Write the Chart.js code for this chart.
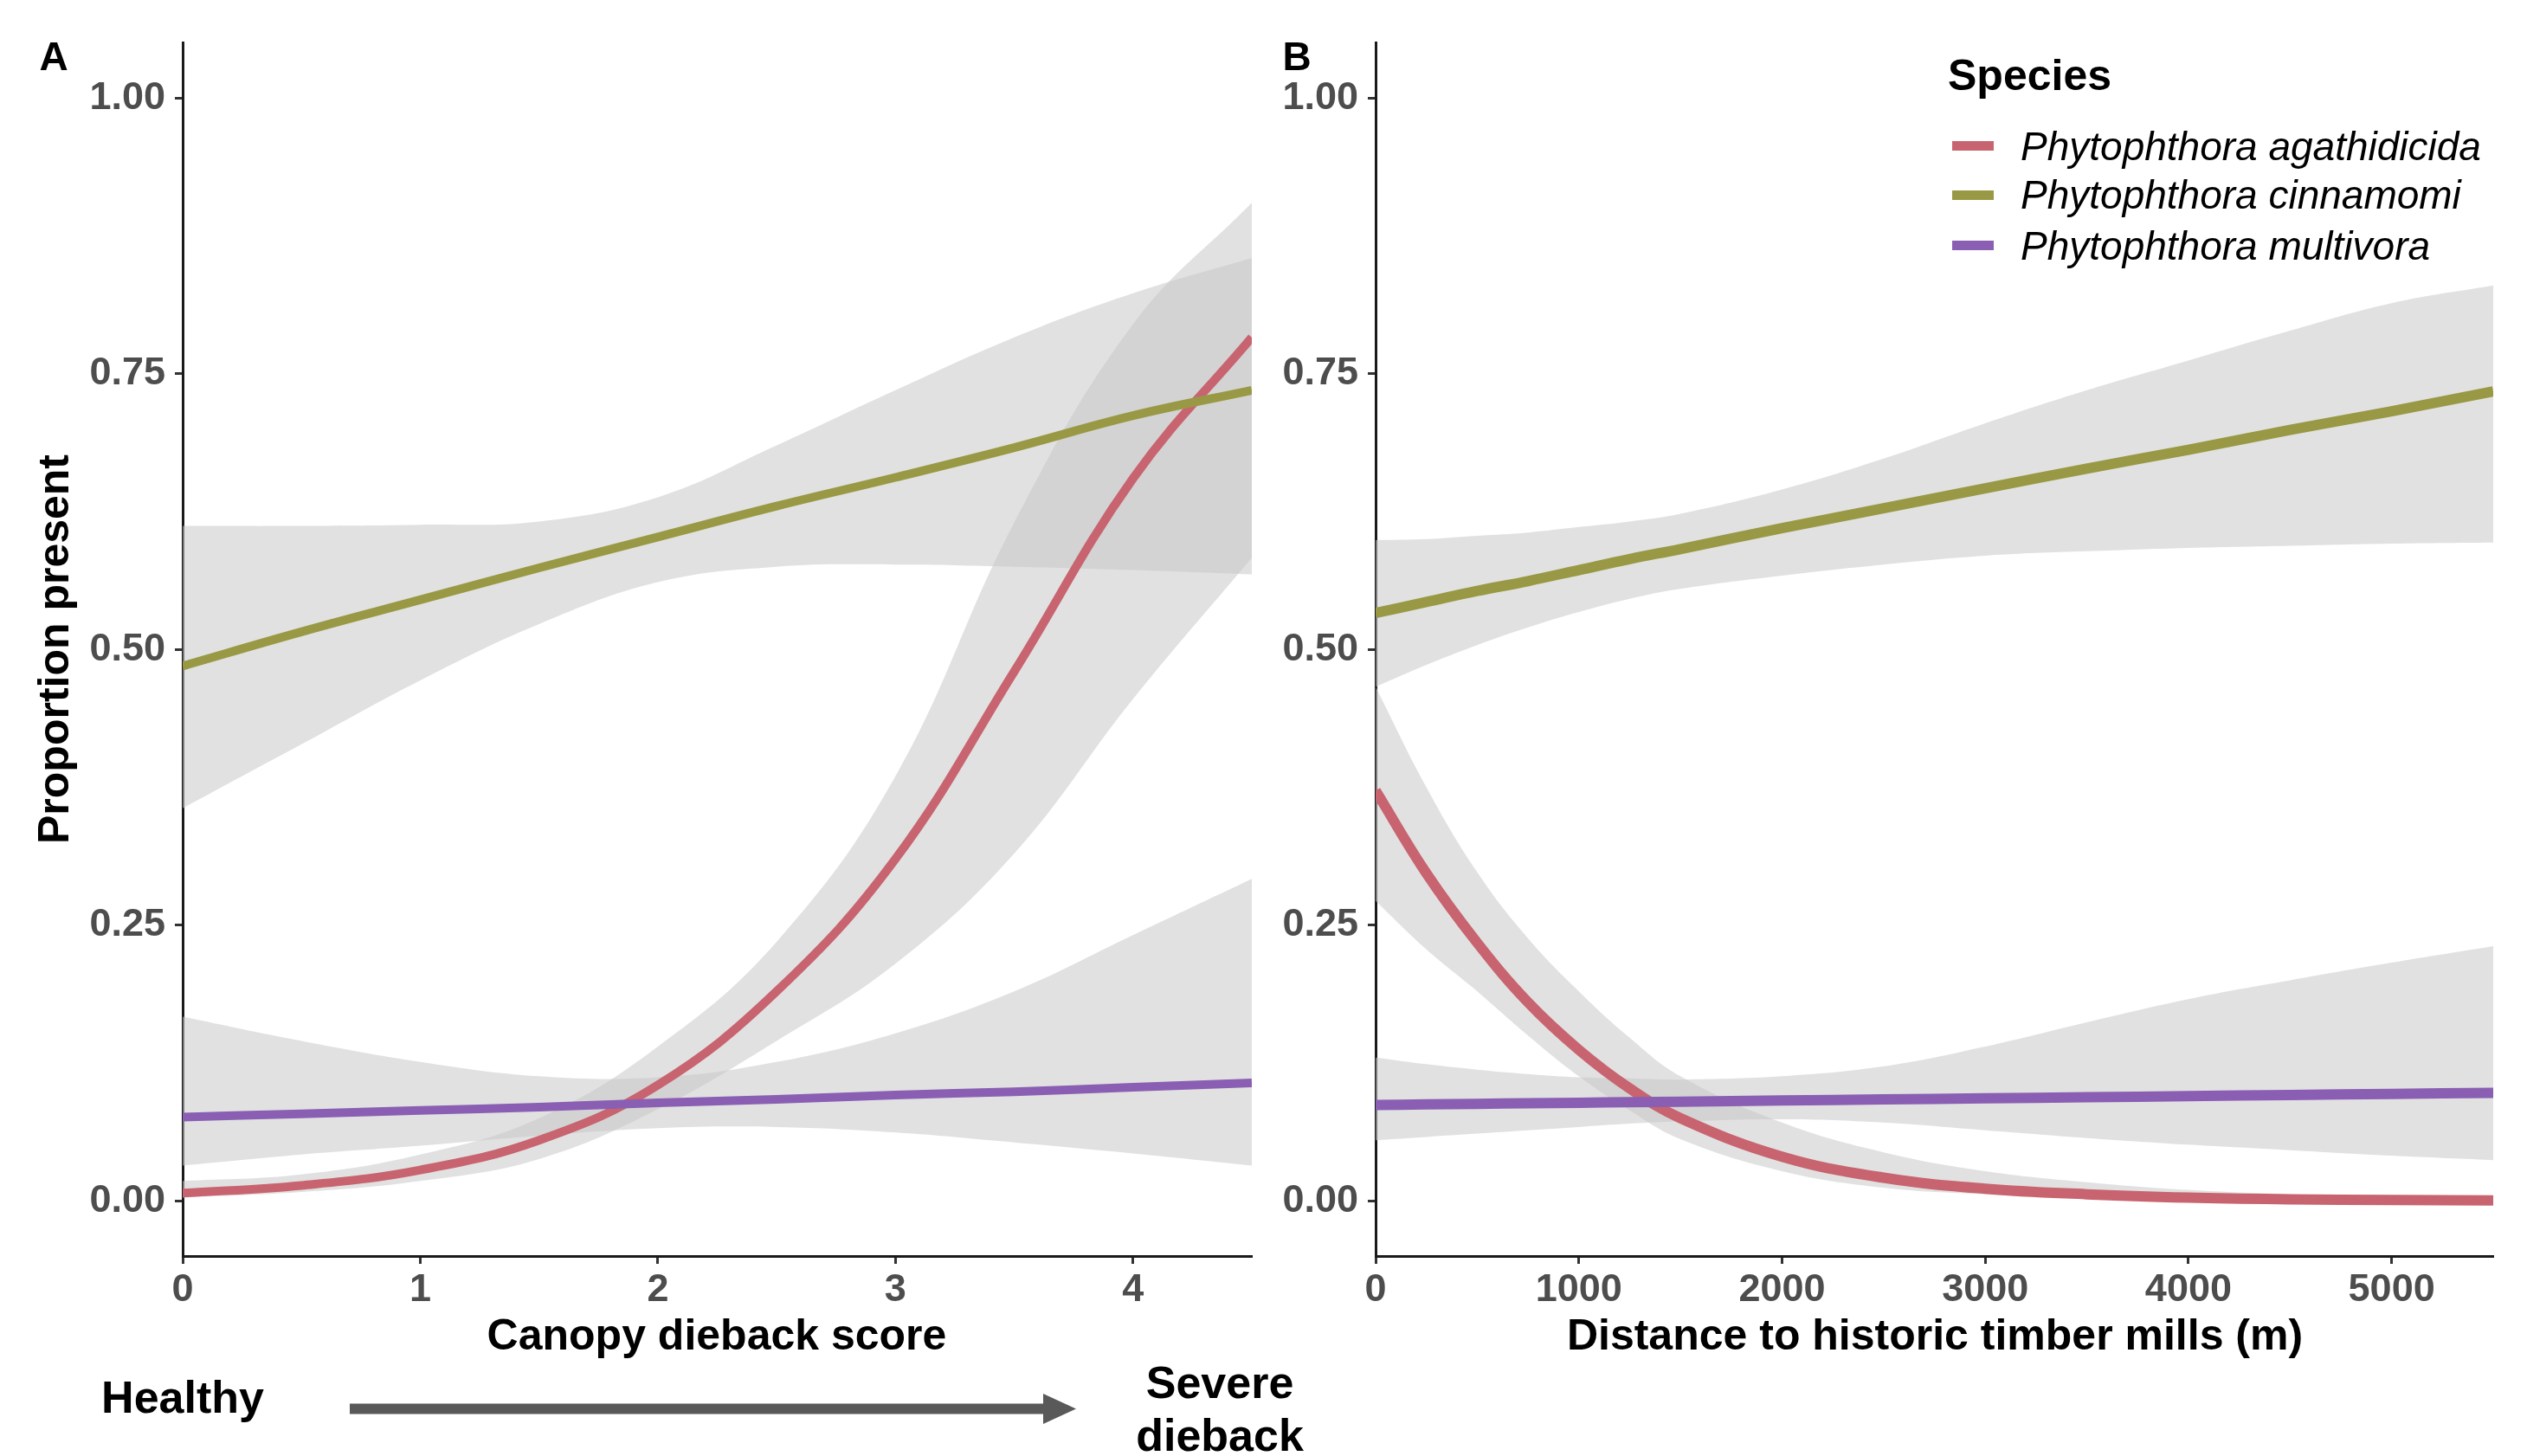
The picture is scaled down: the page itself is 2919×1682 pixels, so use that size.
<!DOCTYPE html>
<html>
<head>
<meta charset="utf-8">
<script src="https://cdn.jsdelivr.net/npm/chart.js@4.4.1/dist/chart.umd.min.js"></script>
<style>
  body { margin: 0; background: #fff; }
  #fig { position: relative; width: 2919px; height: 1682px; overflow: hidden; font-family: 'Liberation Sans', Arial, sans-serif; }
  canvas { position: absolute; top: 0; }
  .lbl { position: absolute; line-height: 1; white-space: nowrap; transform: translate(-50%, -50%); color: #000; font-weight: bold; }
  .left { transform: translate(0, -50%); }
  .row { position: absolute; left: 2255px; height: 46px; transform: translateY(-50%); display: flex; align-items: center; }
  .swatch { width: 48px; height: 11px; margin-right: 31px; }
  .row span.name { font-style: italic; font-size: 46px; line-height: 1; color: #000; white-space: nowrap; }
  svg { position: absolute; left: 0; top: 0; }
</style>
</head>
<body>
<div id="fig">
  <canvas id="panelA" width="1460" height="1682" style="left:0;width:1460px;height:1682px"></canvas>
  <canvas id="panelB" width="1459" height="1682" style="left:1460px;width:1459px;height:1682px"></canvas>

  <div class="lbl" style="left:62px;top:65px;font-size:46px">A</div>
  <div class="lbl" style="left:1498px;top:65px;font-size:46px">B</div>
  <div class="lbl" style="left:62px;top:750px;font-size:50px;transform:translate(-50%,-50%) rotate(-90deg)">Proportion present</div>
  <div class="lbl" style="left:828px;top:1542px;font-size:50px">Canopy dieback score</div>
  <div class="lbl" style="left:2235px;top:1542px;font-size:50px">Distance to historic timber mills (m)</div>

  <div class="lbl left" style="left:2250px;top:87px;font-size:50px">Species</div>
  <div id="legend"></div>

  <div class="lbl" style="left:211px;top:1614px;font-size:52px">Healthy</div>
  <div class="lbl" style="left:1409px;top:1597px;font-size:52px">Severe</div>
  <div class="lbl" style="left:1409px;top:1658px;font-size:52px">dieback</div>
  <svg width="2919" height="1682">
    <rect x="404" y="1621.5" width="806" height="12" fill="#595959"/>
    <polygon points="1205,1610 1243,1627.5 1205,1645" fill="#595959"/>
  </svg>
</div>

<script>
// ---- data ----
const speciesNames = ['Phytophthora agathidicida', 'Phytophthora cinnamomi', 'Phytophthora multivora'];
const speciesColors = ['#C8646F', '#999945', '#8A5FB3'];

const yTicks = [0, 0.25, 0.5, 0.75, 1];
const yTickLabels = ['0.00', '0.25', '0.50', '0.75', '1.00'];

// Panel A: canopy dieback score
const scoreX = [0, 0.5, 1, 1.5, 2, 2.5, 3, 3.5, 4, 4.5];
const scoreTicks = [0, 1, 2, 3, 4];
const scoreTickLabels = ['0', '1', '2', '3', '4'];

const agathA = [0.007, 0.014, 0.028, 0.055, 0.105, 0.19, 0.31, 0.48, 0.655, 0.783];
const agathALow = [0.003, 0.008, 0.018, 0.038, 0.083, 0.145, 0.215, 0.315, 0.455, 0.583];
const agathAHigh = [0.018, 0.024, 0.042, 0.075, 0.14, 0.235, 0.385, 0.615, 0.795, 0.905];

const cinnA = [0.485, 0.516, 0.545, 0.574, 0.602, 0.630, 0.656, 0.683, 0.712, 0.735];
const cinnALow = [0.356, 0.414, 0.472, 0.523, 0.561, 0.575, 0.577, 0.575, 0.572, 0.568];
const cinnAHigh = [0.612, 0.612, 0.613, 0.616, 0.638, 0.685, 0.735, 0.783, 0.823, 0.855];

const multA = [0.076, 0.079, 0.082, 0.085, 0.089, 0.092, 0.096, 0.099, 0.103, 0.107];
const multALow = [0.032, 0.042, 0.050, 0.059, 0.066, 0.067, 0.062, 0.053, 0.043, 0.032];
const multAHigh = [0.167, 0.145, 0.126, 0.113, 0.112, 0.126, 0.152, 0.19, 0.241, 0.292];

// Panel B: distance to historic timber mills (m)
const distX = [0, 250, 500, 750, 1000, 1250, 1500, 2000, 2500, 3000, 3500, 4000, 4500, 5000, 5500];
const distTicks = [0, 1000, 2000, 3000, 4000, 5000];
const distTickLabels = ['0', '1000', '2000', '3000', '4000', '5000'];

const agathB = [0.372, 0.297, 0.234, 0.180, 0.137, 0.102, 0.075, 0.040, 0.021, 0.011, 0.006, 0.003, 0.0015, 0.0008, 0.0004];
const agathBLow = [0.272, 0.228, 0.19, 0.15, 0.113, 0.082, 0.056, 0.027, 0.012, 0.006, 0.003, 0.0015, 0.0007, 0.0003, 0.0001];
const agathBHigh = [0.466, 0.375, 0.298, 0.238, 0.19, 0.148, 0.113, 0.071, 0.044, 0.027, 0.017, 0.010, 0.006, 0.004, 0.002];

const cinnB = [0.533, 0.543, 0.553, 0.562, 0.572, 0.582, 0.591, 0.610, 0.628, 0.646, 0.664, 0.681, 0.699, 0.716, 0.734];
const cinnBLow = [0.466, 0.486, 0.504, 0.520, 0.534, 0.546, 0.555, 0.567, 0.577, 0.585, 0.589, 0.592, 0.594, 0.596, 0.597];
const cinnBHigh = [0.599, 0.600, 0.603, 0.606, 0.611, 0.616, 0.623, 0.645, 0.673, 0.705, 0.735, 0.762, 0.789, 0.814, 0.830];

const multB = [0.087, 0.0875, 0.088, 0.0885, 0.089, 0.0895, 0.090, 0.091, 0.092, 0.093, 0.094, 0.095, 0.096, 0.097, 0.098];
const multBLow = [0.055, 0.058, 0.061, 0.064, 0.067, 0.070, 0.072, 0.074, 0.071, 0.064, 0.057, 0.051, 0.046, 0.041, 0.037];
const multBHigh = [0.130, 0.124, 0.119, 0.115, 0.112, 0.111, 0.110, 0.113, 0.122, 0.140, 0.162, 0.183, 0.200, 0.216, 0.231];

const ribbonFill = 'rgba(200, 200, 200, 0.55)';
const fontFamily = "'Liberation Sans', Arial, sans-serif";

function toPoints(xs, ys) {
  return xs.map((x, i) => ({ x: x, y: ys[i] }));
}

// ribbons go first (upper edge fills down to the lower edge right after it), fitted lines on top
function buildDatasets(xs, fits, lows, highs, lineWidth) {
  const ds = [];
  fits.forEach((f, s) => {
    ds.push({ data: toPoints(xs, highs[s]), fill: '+1', backgroundColor: ribbonFill,
              borderColor: 'rgba(0,0,0,0)', borderWidth: 0, order: 10 });
    ds.push({ data: toPoints(xs, lows[s]), fill: false,
              borderColor: 'rgba(0,0,0,0)', borderWidth: 0, order: 10 });
  });
  fits.forEach((f, s) => {
    ds.push({ label: speciesNames[s], data: toPoints(xs, f), fill: false,
              borderColor: speciesColors[s], borderWidth: lineWidth, order: 3 - s });
  });
  return ds;
}

function makePanel(id, xs, fits, lows, highs, xMax, xTicks, xTickLabels, yAxisWidth, rightPad, lineWidth) {
  const tickFont = { family: fontFamily, size: 45, weight: 'bold' };
  return new Chart(document.getElementById(id), {
    type: 'line',
    data: { datasets: buildDatasets(xs, fits, lows, highs, lineWidth) },
    options: {
      responsive: false,
      animation: false,
      events: [],
      layout: { padding: { left: 0, right: rightPad, top: 49.5, bottom: 0 } },
      elements: {
        point: { radius: 0 },
        line: { tension: 0.4, borderCapStyle: 'butt' }
      },
      plugins: { legend: { display: false }, tooltip: { enabled: false } },
      scales: {
        x: {
          type: 'linear', min: 0, max: xMax,
          afterBuildTicks: s => { s.ticks = xTicks.map(v => ({ value: v })); },
          afterFit: s => { s.height = 1682 - 1451; },
          grid: { drawOnChartArea: false, tickLength: 9, tickWidth: 3, tickColor: '#333' },
          border: { color: '#1a1a1a', width: 3 },
          ticks: { color: '#4D4D4D', font: tickFont, padding: 4, maxRotation: 0, autoSkip: false,
                   callback: (v, i) => xTickLabels[i] }
        },
        y: {
          type: 'linear', min: -0.05, max: 1.05,
          afterBuildTicks: s => { s.ticks = yTicks.map(v => ({ value: v })); },
          afterFit: s => { s.width = yAxisWidth; },
          grid: { drawOnChartArea: false, tickLength: 9, tickWidth: 3, tickColor: '#333' },
          border: { color: '#1a1a1a', width: 3 },
          ticks: { color: '#4D4D4D', font: tickFont, padding: 11, autoSkip: false,
                   callback: (v, i) => yTickLabels[i] }
        }
      }
    }
  });
}

makePanel('panelA', scoreX, [agathA, cinnA, multA], [agathALow, cinnALow, multALow],
          [agathAHigh, cinnAHigh, multAHigh], 4.5, scoreTicks, scoreTickLabels, 211, 14, 10);
makePanel('panelB', distX, [agathB, cinnB, multB], [agathBLow, cinnBLow, multBLow],
          [agathBHigh, cinnBHigh, multBHigh], 5500, distTicks, distTickLabels, 129, 39, 12);

// legend (HTML, placed like the ggplot guide)
const legendTops = [168.5, 225, 283.5];
const legend = document.getElementById('legend');
speciesNames.forEach((name, i) => {
  const row = document.createElement('div');
  row.className = 'row';
  row.style.top = legendTops[i] + 'px';
  row.innerHTML = '<div class="swatch" style="background:' + speciesColors[i] + '"></div>' +
                  '<span class="name">' + name + '</span>';
  legend.appendChild(row);
});
</script>
</body>
</html>
